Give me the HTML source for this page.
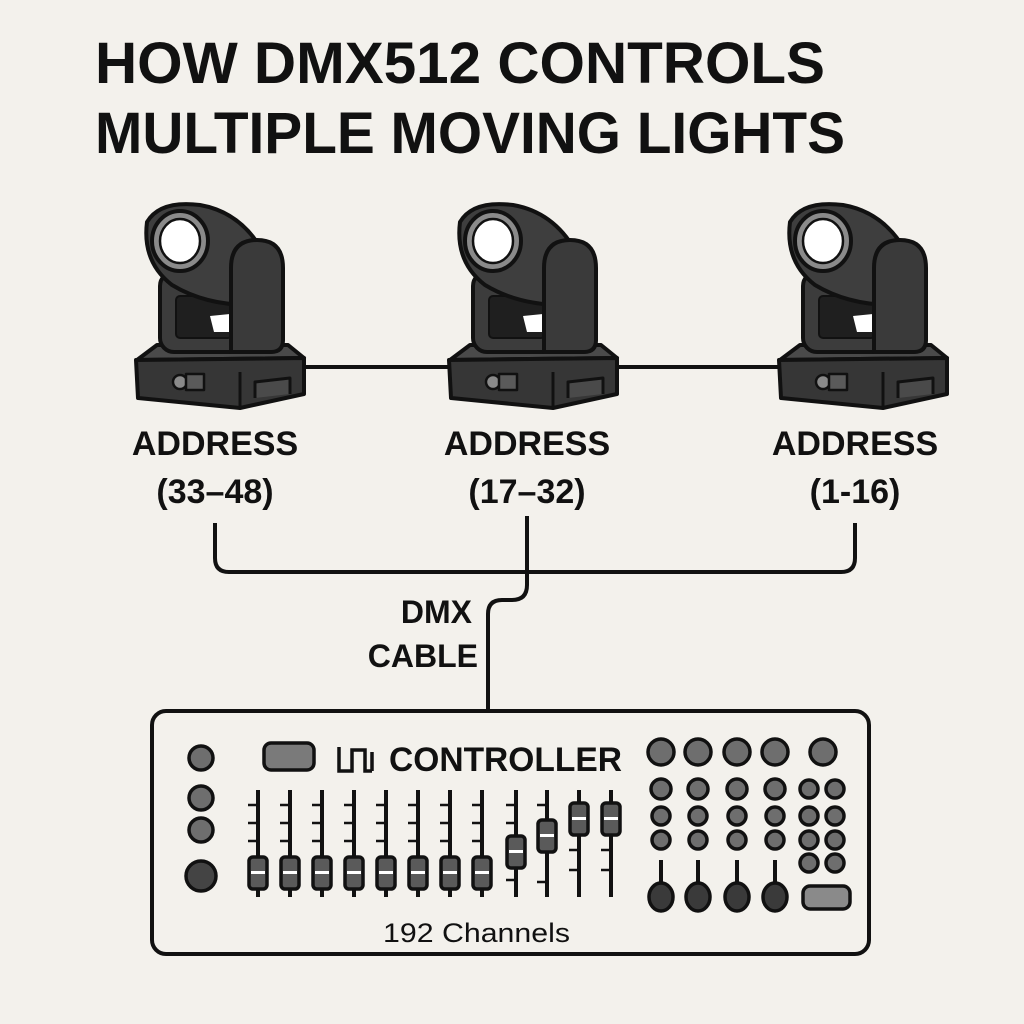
<!DOCTYPE html>
<html><head><meta charset="utf-8"><style>
html,body{margin:0;padding:0;background:#f3f1ec;}
svg{display:block}
text{font-family:"Liberation Sans",sans-serif;fill:#111}
</style></head><body>
<svg width="1024" height="1024" viewBox="0 0 1024 1024" xmlns="http://www.w3.org/2000/svg">
<rect width="1024" height="1024" fill="#f3f1ec"/>
<defs>
<g id="light" stroke="#111" stroke-width="4" stroke-linejoin="round">
  <polygon points="137,360 157,345 288,345 304,358" fill="#4a4a4a"/>
  <path d="M136,360 L304,358 L304,394 L240,408 L138,398 Z" fill="#363636"/>
  <line x1="240" y1="372" x2="240" y2="408" stroke-width="3"/>
  <circle cx="180" cy="382" r="7" fill="#8a8a8a" stroke-width="2.5"/>
  <rect x="186" y="374" width="18" height="16" fill="#5a5a5a" stroke-width="2.5"/>
  <path d="M255,398 L255,382 L290,378 L290,394" fill="#4a4a4a" stroke-width="3"/>
  <rect x="160" y="272" width="123" height="80" rx="14" fill="#3c3c3c"/>
  <rect x="176" y="296" width="56" height="42" rx="4" fill="#1f1f1f" stroke-width="2"/>
  <path d="M210,316 L230,314 L230,332 L214,332 Z" fill="#fff" stroke="none"/>
  <path d="M147,222 Q160,200 200,205 Q240,212 262,250 L250,305 Q205,305 172,285 Q142,262 147,222 Z" fill="#3e3e3e"/>
  <path d="M231,352 L231,268 Q231,240 257,240 Q283,240 283,268 L283,340 Q283,352 271,352 Z" fill="#3a3a3a"/>
  <ellipse cx="180" cy="241" rx="28" ry="30" fill="#8a8a8a"/>
  <ellipse cx="180" cy="241" rx="20" ry="22" fill="#fff" stroke-width="2.5"/>
</g>
</defs>

<text x="95" y="83" font-size="58" font-weight="bold" textLength="730" lengthAdjust="spacingAndGlyphs">HOW DMX512 CONTROLS</text>
<text x="95" y="153" font-size="58" font-weight="bold" textLength="750" lengthAdjust="spacingAndGlyphs">MULTIPLE MOVING LIGHTS</text>

<g stroke="#111" stroke-width="4" fill="none">
  <line x1="304" y1="367" x2="450" y2="367"/>
  <line x1="616" y1="367" x2="780" y2="367"/>
  <path d="M215,523 L215,558 Q215,572 229,572 L841,572 Q855,572 855,558 L855,523"/>
  <path d="M527,516 L527,585 Q527,600 512,600 L502,600 Q488,600 488,614 L488,710"/>
</g>

<use href="#light"/>
<use href="#light" transform="translate(313,0)"/>
<use href="#light" transform="translate(643,0)"/>

<g font-size="34" font-weight="bold" text-anchor="middle">
  <text x="215" y="455">ADDRESS</text>
  <text x="215" y="503">(33–48)</text>
  <text x="527" y="455">ADDRESS</text>
  <text x="527" y="503">(17–32)</text>
  <text x="855" y="455">ADDRESS</text>
  <text x="855" y="503">(1-16)</text>
</g>
<g font-size="32" font-weight="bold" text-anchor="end">
  <text x="472" y="623">DMX</text>
  <text x="478" y="667">CABLE</text>
</g>

<rect x="152" y="711" width="717" height="243" rx="14" fill="#f3f1ec" stroke="#111" stroke-width="4"/>
<g stroke="#111" stroke-width="3.5">
  <circle cx="201" cy="758" r="12" fill="#6e6e6e"/>
  <circle cx="201" cy="798" r="12" fill="#6e6e6e"/>
  <circle cx="201" cy="830" r="12" fill="#6e6e6e"/>
  <circle cx="201" cy="876" r="15" fill="#444"/>
  <rect x="264" y="743" width="50" height="27" rx="7" fill="#7a7a7a"/>
</g>
<path d="M339,747 L339,771 L352,771 L352,750 L365,750 L365,771 L372,771 M372,752 L372,771" stroke="#111" stroke-width="3.5" fill="none"/>
<text x="389" y="771" font-size="34" font-weight="bold" textLength="233" lengthAdjust="spacingAndGlyphs">CONTROLLER</text>
<text x="383" y="942" font-size="27" textLength="187" lengthAdjust="spacingAndGlyphs">192 Channels</text>

<g stroke="#111" stroke-width="4">
  <line x1="258" y1="790" x2="258" y2="897"/><line x1="290" y1="790" x2="290" y2="897"/>
  <line x1="322" y1="790" x2="322" y2="897"/><line x1="354" y1="790" x2="354" y2="897"/>
  <line x1="386" y1="790" x2="386" y2="897"/><line x1="418" y1="790" x2="418" y2="897"/>
  <line x1="450" y1="790" x2="450" y2="897"/><line x1="482" y1="790" x2="482" y2="897"/>
  <line x1="516" y1="790" x2="516" y2="897"/><line x1="547" y1="790" x2="547" y2="897"/>
  <line x1="579" y1="790" x2="579" y2="897"/><line x1="611" y1="790" x2="611" y2="897"/>
</g>
<g stroke="#111" stroke-width="2.5">
  <path d="M248,805h10M248,823h10M248,841h10M280,805h10M280,823h10M280,841h10M312,805h10M312,823h10M312,841h10M344,805h10M344,823h10M344,841h10M376,805h10M376,823h10M376,841h10M408,805h10M408,823h10M408,841h10M440,805h10M440,823h10M440,841h10M472,805h10M472,823h10M472,841h10M506,805h10M506,823h10M506,865h10M506,880h10M537,805h10M537,882h10M569,850h10M569,870h10M601,850h10M601,870h10"/>
</g>
<g stroke="#111" stroke-width="3.5" fill="#5a5a5a">
  <rect x="249" y="857" width="18" height="32" rx="4"/><rect x="281" y="857" width="18" height="32" rx="4"/>
  <rect x="313" y="857" width="18" height="32" rx="4"/><rect x="345" y="857" width="18" height="32" rx="4"/>
  <rect x="377" y="857" width="18" height="32" rx="4"/><rect x="409" y="857" width="18" height="32" rx="4"/>
  <rect x="441" y="857" width="18" height="32" rx="4"/><rect x="473" y="857" width="18" height="32" rx="4"/>
  <rect x="507" y="836" width="18" height="32" rx="4"/><rect x="538" y="820" width="18" height="32" rx="4"/>
  <rect x="570" y="803" width="18" height="32" rx="4"/><rect x="602" y="803" width="18" height="32" rx="4"/>
</g>
<g fill="#fff">
  <rect x="251" y="871" width="14" height="3"/><rect x="283" y="871" width="14" height="3"/>
  <rect x="315" y="871" width="14" height="3"/><rect x="347" y="871" width="14" height="3"/>
  <rect x="379" y="871" width="14" height="3"/><rect x="411" y="871" width="14" height="3"/>
  <rect x="443" y="871" width="14" height="3"/><rect x="475" y="871" width="14" height="3"/>
  <rect x="509" y="850" width="14" height="3"/><rect x="540" y="834" width="14" height="3"/>
  <rect x="572" y="817" width="14" height="3"/><rect x="604" y="817" width="14" height="3"/>
</g>

<g stroke="#111" stroke-width="3.5" fill="#6e6e6e">
  <circle cx="661" cy="752" r="13"/><circle cx="698" cy="752" r="13"/><circle cx="737" cy="752" r="13"/><circle cx="775" cy="752" r="13"/><circle cx="823" cy="752" r="13"/>
  <circle cx="661" cy="789" r="10"/><circle cx="698" cy="789" r="10"/><circle cx="737" cy="789" r="10"/><circle cx="775" cy="789" r="10"/><circle cx="809" cy="789" r="9"/><circle cx="835" cy="789" r="9"/>
  <circle cx="661" cy="816" r="9"/><circle cx="698" cy="816" r="9"/><circle cx="737" cy="816" r="9"/><circle cx="775" cy="816" r="9"/><circle cx="809" cy="816" r="9"/><circle cx="835" cy="816" r="9"/>
  <circle cx="661" cy="840" r="9"/><circle cx="698" cy="840" r="9"/><circle cx="737" cy="840" r="9"/><circle cx="775" cy="840" r="9"/><circle cx="809" cy="840" r="9"/><circle cx="835" cy="840" r="9"/>
  <circle cx="809" cy="863" r="9"/><circle cx="835" cy="863" r="9"/>
  <rect x="803" y="886" width="47" height="23" rx="7" fill="#8a8a8a"/>
</g>
<g stroke="#111" stroke-width="4">
  <line x1="661" y1="860" x2="661" y2="890"/><line x1="698" y1="860" x2="698" y2="890"/><line x1="737" y1="860" x2="737" y2="890"/><line x1="775" y1="860" x2="775" y2="890"/>
</g>
<g stroke="#111" stroke-width="3.5" fill="#3a3a3a">
  <ellipse cx="661" cy="897" rx="12" ry="14"/><ellipse cx="698" cy="897" rx="12" ry="14"/><ellipse cx="737" cy="897" rx="12" ry="14"/><ellipse cx="775" cy="897" rx="12" ry="14"/>
</g>
</svg>
</body></html>
